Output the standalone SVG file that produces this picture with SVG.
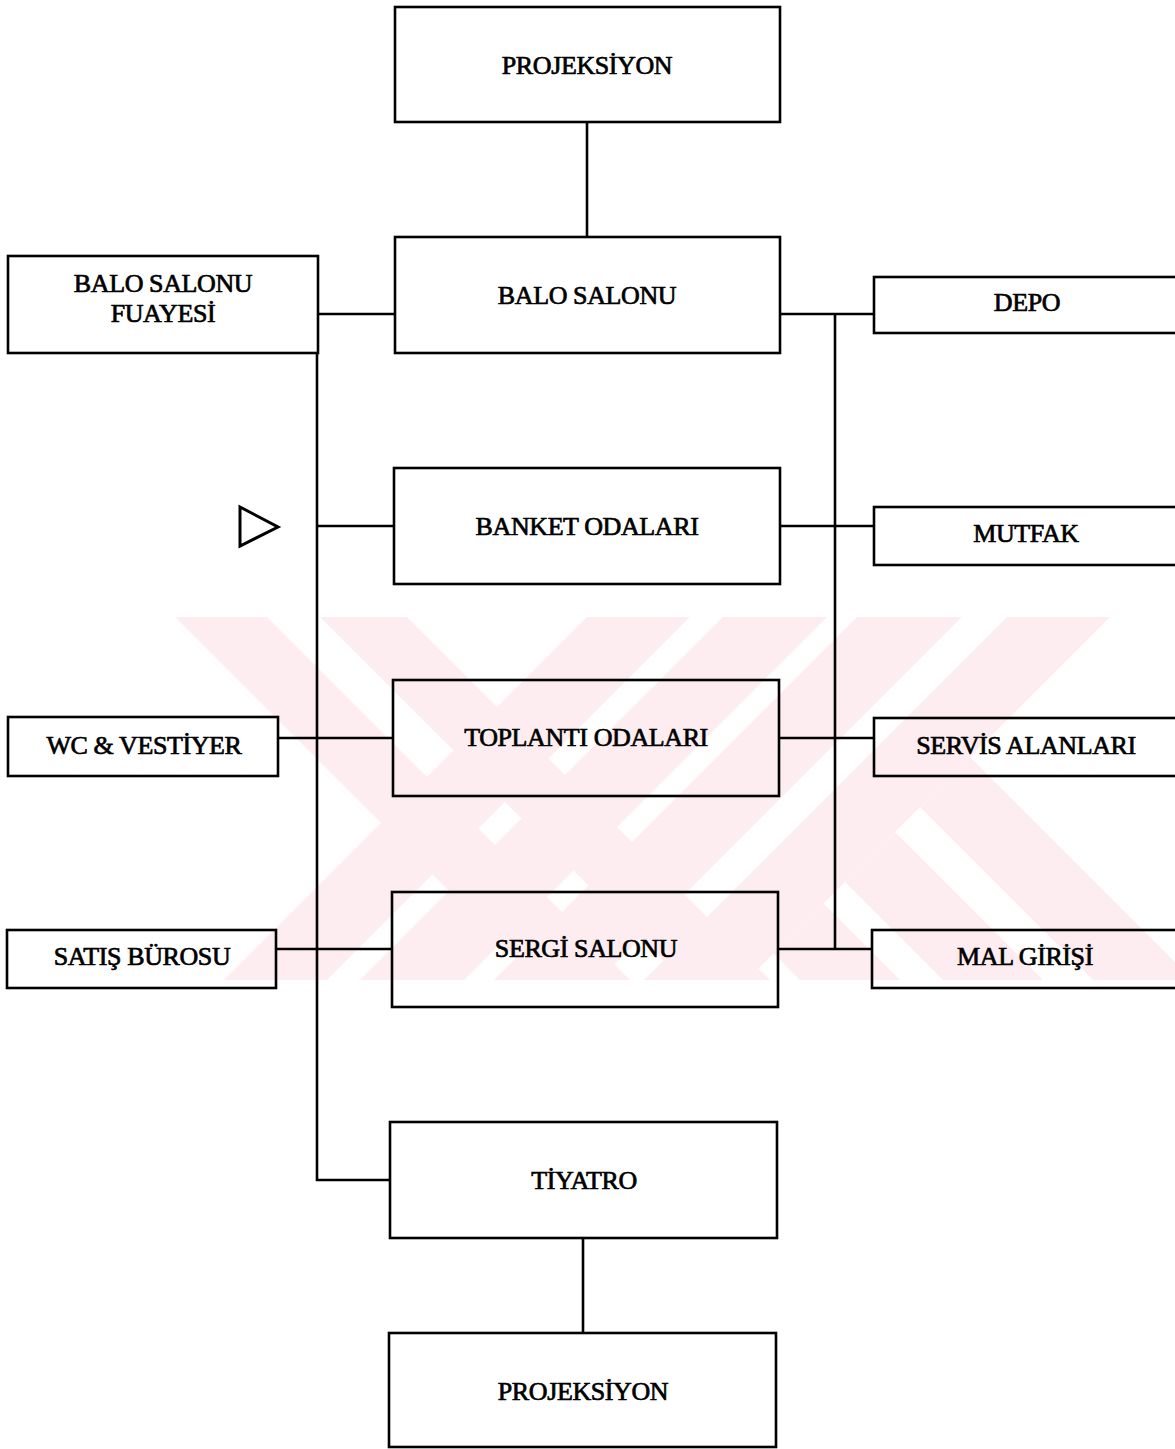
<svg xmlns="http://www.w3.org/2000/svg" width="1175" height="1449" viewBox="0 0 1175 1449">
<style>
.box{fill:none;stroke:#000;stroke-width:2.6}
.ln{fill:none;stroke:#000;stroke-width:2.6}
.t{font-family:"Liberation Serif","Times New Roman",serif;font-size:26px;fill:#000;stroke:#000;stroke-width:0.7;text-anchor:middle;letter-spacing:-0.4px}
.wm{fill:#fdedf0}
</style>
<defs>
<clipPath id="wmclip"><rect x="170" y="617" width="1005" height="363"/></clipPath>
<clipPath id="rightleg"><polygon points="1727,0 1175,0 1175,1449 278,1449"/></clipPath>
</defs>
<rect width="1175" height="1449" fill="#fff"/>
<g id="watermark" clip-path="url(#wmclip)">
  <polygon class="wm" points="175,617 267,617 630,980 538,980"/>
  <polygon class="wm" points="320,617 407,617 770,980 683,980"/>
  <polygon class="wm" points="587,617 690,617 327,980 224,980"/>
  <polygon class="wm" points="723,617 827,617 464,980 360,980"/>
  <polygon class="wm" points="857,617 962,617 599,980 494,980"/>
  <polygon class="wm" points="1007,617 1110,617 747,980 644,980"/>
  <g clip-path="url(#rightleg)">
    <polygon class="wm" points="713,600 813,600 1193,980 1093,980"/>
    <polygon class="wm" points="563,600 663,600 1043,980 943,980"/>
    <polygon class="wm" points="420,600 520,600 900,980 800,980"/>
  </g>
</g>
<g id="connectors">
  <line class="ln" x1="587" y1="122" x2="587" y2="237"/>
  <line class="ln" x1="318" y1="314" x2="395" y2="314"/>
  <polyline class="ln" points="317,353 317,1180 390,1180"/>
  <line class="ln" x1="317" y1="526" x2="394" y2="526"/>
  <line class="ln" x1="278" y1="738" x2="393" y2="738"/>
  <line class="ln" x1="277" y1="949" x2="392" y2="949"/>
  <line class="ln" x1="583" y1="1238" x2="583" y2="1333"/>
  <line class="ln" x1="780" y1="314" x2="874" y2="314"/>
  <line class="ln" x1="835" y1="314" x2="835" y2="949"/>
  <line class="ln" x1="780" y1="526" x2="874" y2="526"/>
  <line class="ln" x1="779" y1="738" x2="874" y2="738"/>
  <line class="ln" x1="778" y1="949" x2="872" y2="949"/>
  <polygon id="entrance" points="240,507 278,527 240,546" fill="none" stroke="#000" stroke-width="3"/>
</g>
<g id="projeksiyon-top"><rect class="box" x="395" y="7" width="385" height="115"/><text class="t" x="587" y="74">PROJEKSİYON</text></g>
<g id="balo-salonu"><rect class="box" x="395" y="237" width="385" height="116"/><text class="t" x="587" y="304">BALO SALONU</text></g>
<g id="balo-fuayesi"><rect class="box" x="8" y="256" width="310" height="97"/><text class="t" x="163" y="292">BALO SALONU</text><text class="t" x="163" y="322">FUAYESİ</text></g>
<g id="depo"><rect class="box" x="874" y="277" width="310" height="56"/><text class="t" x="1027" y="311">DEPO</text></g>
<g id="banket"><rect class="box" x="394" y="468" width="386" height="116"/><text class="t" x="587" y="535">BANKET ODALARI</text></g>
<g id="mutfak"><rect class="box" x="874" y="507" width="310" height="58"/><text class="t" x="1026" y="542">MUTFAK</text></g>
<g id="wc"><rect class="box" x="8" y="717" width="270" height="59"/><text class="t" x="144" y="754">WC &amp; VESTİYER</text></g>
<g id="toplanti"><rect class="box" x="393" y="680" width="386" height="116"/><text class="t" x="586" y="746">TOPLANTI ODALARI</text></g>
<g id="servis"><rect class="box" x="874" y="718" width="310" height="58"/><text class="t" x="1026" y="754">SERVİS ALANLARI</text></g>
<g id="satis"><rect class="box" x="7" y="930" width="269" height="58"/><text class="t" x="142" y="965">SATIŞ BÜROSU</text></g>
<g id="sergi"><rect class="box" x="392" y="892" width="386" height="115"/><text class="t" x="586" y="957">SERGİ SALONU</text></g>
<g id="mal"><rect class="box" x="872" y="930" width="310" height="58"/><text class="t" x="1025" y="965">MAL GİRİŞİ</text></g>
<g id="tiyatro"><rect class="box" x="390" y="1122" width="387" height="116"/><text class="t" x="584" y="1189">TİYATRO</text></g>
<g id="projeksiyon-bottom"><rect class="box" x="389" y="1333" width="387" height="114"/><text class="t" x="583" y="1400">PROJEKSİYON</text></g>
</svg>
